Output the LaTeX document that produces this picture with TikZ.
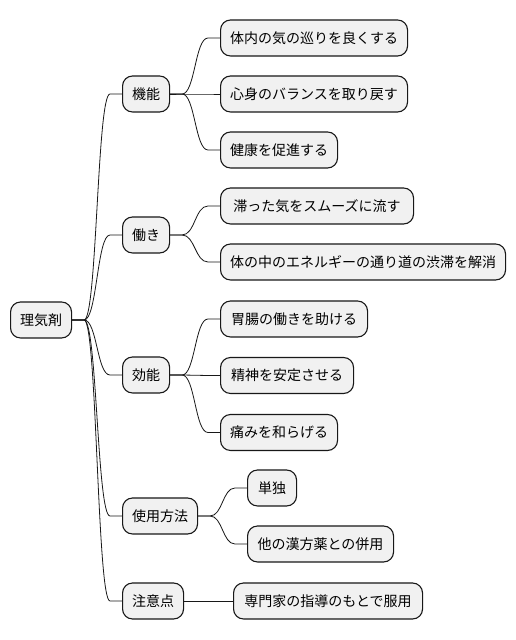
\documentclass[tikz,border=0pt]{standalone}
\usepackage{fontspec}
\setmainfont{Noto Sans CJK JP}
\usetikzlibrary{calc}
\definecolor{boxfill}{HTML}{F1F1F1}
\definecolor{boxline}{HTML}{181818}
\tikzset{
  mm/.style={draw=boxline, line width=1.1pt, fill=boxfill, rounded corners=10pt,
    minimum height=36pt, inner xsep=0pt, inner ysep=0pt, anchor=west,
    font=\fontsize{14}{16}\selectfont, text=black},
  conn/.style={draw=boxline, line width=0.8pt}
}
\newcommand{\mmconn}[2]{%
  \draw[conn] let \p1=($(#1.east)+(12pt,0)$), \p2=($(#2.west)-(12pt,0)$) in
    (#1.east) -- (\p1) .. controls ({(\x1+\x2)/2}, \y1) and ({(\x1+\x2)/2}, \y2) .. (\p2) -- (#2.west);}
\begin{document}
\begin{tikzpicture}[x=1pt,y=1pt]
\useasboundingbox (0,0) rectangle (516,640);
\fill[white] (0,0) rectangle (516,640);
% root
\node[mm, minimum width=61pt] (root) at (10,320) {理気剤};
% level 1
\node[mm, minimum width=47pt] (k1) at (122,546) {機能};
\node[mm, minimum width=47pt] (k2) at (122,405) {働き};
\node[mm, minimum width=47pt] (k3) at (122,265) {効能};
\node[mm, minimum width=75pt] (k4) at (122,124) {使用方法};
\node[mm, minimum width=61pt] (k5) at (122,39) {注意点};
% level 2
\node[mm, minimum width=187pt] (a1) at (220,602) {体内の気の巡りを良くする};
\node[mm, minimum width=187pt] (a2) at (220,546) {心身のバランスを取り戻す};
\node[mm, minimum width=117pt] (a3) at (220,490) {健康を促進する};
\node[mm, minimum width=193pt] (b1) at (220,434) {滞った気をスムーズに流す};
\node[mm, minimum width=285pt] (b2) at (220,378) {体の中のエネルギーの通り道の渋滞を解消};
\node[mm, minimum width=147pt] (c1) at (220,321) {胃腸の働きを助ける};
\node[mm, minimum width=133pt] (c2) at (220,264.5) {精神を安定させる};
\node[mm, minimum width=117pt] (c3) at (220,207.5) {痛みを和らげる};
\node[mm, minimum width=49pt] (d1) at (247,152) {単独};
\node[mm, minimum width=146pt] (d2) at (247,96) {他の漢方薬との併用};
\node[mm, minimum width=189pt] (e1) at (233,39) {専門家の指導のもとで服用};
% connectors
\mmconn{root}{k1}
\mmconn{root}{k2}
\mmconn{root}{k3}
\mmconn{root}{k4}
\mmconn{root}{k5}
\mmconn{k1}{a1}
\mmconn{k1}{a2}
\mmconn{k1}{a3}
\mmconn{k2}{b1}
\mmconn{k2}{b2}
\mmconn{k3}{c1}
\mmconn{k3}{c2}
\mmconn{k3}{c3}
\mmconn{k4}{d1}
\mmconn{k4}{d2}
\draw[conn] (k5.east) -- (e1.west);
\end{tikzpicture}
\end{document}
